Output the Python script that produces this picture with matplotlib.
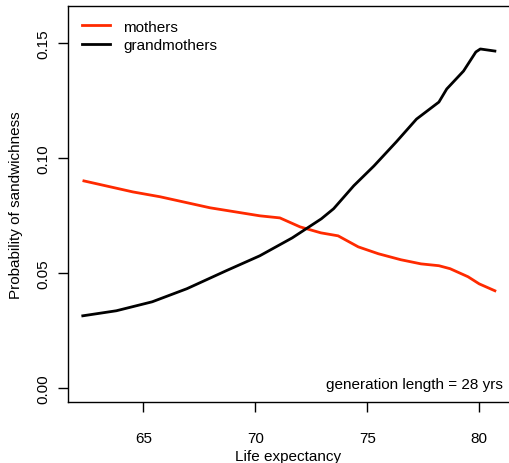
import matplotlib
matplotlib.use("Agg")
import matplotlib.pyplot as plt

plt.rcParams["font.family"] = ["Liberation Sans", "DejaVu Sans"]

mother_x = [62.35, 64.54, 65.75, 67.98, 70.21, 71.1, 72.0, 72.93, 73.7, 74.6,
            75.5, 76.5, 77.4, 78.2, 78.7, 79.5, 80.0, 80.7]
mother_y = [0.0901, 0.0853, 0.0832, 0.0784, 0.0749, 0.0740, 0.0701, 0.0675, 0.0662, 0.0614,
            0.0584, 0.0558, 0.0540, 0.0532, 0.0519, 0.0484, 0.0453, 0.0423]

grand_x = [62.3, 63.8, 65.4, 66.95, 68.7, 70.2, 71.65, 72.95, 73.5, 74.4,
           75.3, 76.3, 77.2, 78.2, 78.55, 79.3, 79.85, 80.05, 80.7]
grand_y = [0.0314, 0.0336, 0.0375, 0.0432, 0.0510, 0.0575, 0.0653, 0.0736, 0.0780, 0.0880,
           0.0966, 0.1071, 0.1170, 0.1244, 0.1301, 0.1379, 0.1462, 0.1475, 0.1466]

W, H = 509, 464
fig = plt.figure(figsize=(W / 100, H / 100), dpi=100)
ax = fig.add_axes([68 / W, (H - 403) / H, (W - 68) / W, (403 - 7) / H])

ax.plot(mother_x, mother_y, color="#ff2a00", lw=2, label="mothers")
ax.plot(grand_x, grand_y, color="black", lw=2, label="grandmothers")

ax.set_xlim(61.64, 81.33)
ax.set_ylim(-0.0061, 0.1662)
ax.set_xticks([65, 70, 75, 80])
ax.set_yticks([0.00, 0.05, 0.10, 0.15])
ax.set_yticklabels(["0.00", "0.05", "0.10", "0.15"], rotation=90, va="center")
ax.tick_params(direction="out", length=7, width=1, labelsize=11)
ax.tick_params(axis="x", pad=14)
ax.tick_params(axis="y", pad=6)
ax.spines["right"].set_visible(False)
for s in ["left", "bottom", "top"]:
    ax.spines[s].set_linewidth(1)

ax.set_xlabel("Life expectancy", fontsize=11, labelpad=3)
ax.set_ylabel("Probability of sandwichness", fontsize=11, labelpad=9)

ax.legend(loc="upper left", frameon=False, fontsize=11, handlelength=1.85,
          borderaxespad=0.5, labelspacing=0.3, handletextpad=0.85)

ax.text(0.985, 0.045, "generation length = 28 yrs", transform=ax.transAxes,
        ha="right", va="center", fontsize=11)

fig.savefig("out.png", dpi=100)
